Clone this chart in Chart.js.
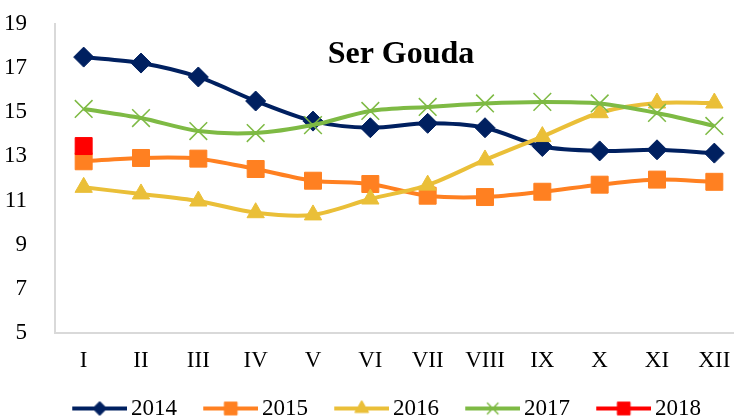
<!DOCTYPE html>
<html>
<head>
<meta charset="utf-8">
<script src="https://cdn.jsdelivr.net/npm/chart.js@4/dist/chart.umd.min.js"></script>
<style>
  html, body { margin: 0; padding: 0; overflow: hidden; background: #fff; }
  #wrap { width: 743px; height: 419px; position: relative; }
</style>
</head>
<body>
<div id="wrap"><canvas id="gouda"></canvas></div>
<script>
// ---------------- data ----------------
let months = ["I", "II", "III", "IV", "V", "VI", "VII", "VIII", "IX", "X", "XI", "XII"];
let years = ["2014", "2015", "2016", "2017", "2018"];

let data2014 = [17.5, 17.23, 16.6, 15.51, 14.6, 14.3, 14.5, 14.3, 13.45, 13.25, 13.3, 13.15];
let data2015 = [12.78, 12.93, 12.9, 12.43, 11.9, 11.75, 11.22, 11.16, 11.4, 11.72, 11.95, 11.85];
let data2016 = [11.6, 11.3, 10.98, 10.45, 10.35, 11.07, 11.7, 12.84, 13.9, 14.98, 15.42, 15.42];
let data2017 = [15.15, 14.74, 14.15, 14.06, 14.42, 15.06, 15.24, 15.4, 15.47, 15.4, 14.97, 14.38];
let data2018 = [13.47, null, null, null, null, null, null, null, null, null, null, null];

let yTicks = [5, 7, 9, 11, 13, 15, 17, 19];
let chartTitle = "Ser Gouda";

// ---------------- styles ----------------
let navy = "#002060";
let orange = "#FF8021";
let yellow = "#EABF38";
let green = "#7EBA44";
let red = "#FF0000";
let serif = "'Liberation Serif', 'Times New Roman', serif";

// legend icon: line with the marker in the middle
let makeIcon = (color, style, radius, borderWidth) => {
  let c = document.createElement("canvas");
  c.width = 87;
  c.height = 26;
  let g = c.getContext("2d");
  g.strokeStyle = color;
  g.lineWidth = 4;
  g.beginPath();
  g.moveTo(32, 13);
  g.lineTo(87, 13);
  g.stroke();
  g.fillStyle = color;
  g.strokeStyle = color;
  g.lineWidth = borderWidth;
  Chart.helpers.drawPoint(g, { pointStyle: style, radius: radius, borderWidth: borderWidth, rotation: 0 }, 59.5, 13);
  return c;
};

let legendIcons = [
  makeIcon(navy, "rectRot", 7, 1),
  makeIcon(orange, "rect", 9, 1),
  makeIcon(yellow, "triangle", 8, 1),
  makeIcon(green, "crossRot", 8, 1.5),
  makeIcon(red, "rect", 9, 1),
];

let titlePlugin = {
  id: "inTitle",
  afterDraw(chart) {
    let { ctx, chartArea } = chart;
    ctx.save();
    ctx.font = "bold 32px " + serif;
    ctx.fillStyle = "#000";
    ctx.textAlign = "center";
    ctx.textBaseline = "middle";
    ctx.fillText(chartTitle, (chartArea.left + chartArea.right) / 2 + 2, 55);
    ctx.restore();
  },
};

let series = (label, values, color, style, radius, order, extra) =>
  Object.assign(
    {
      label: label,
      data: values,
      borderColor: color,
      backgroundColor: color,
      borderWidth: 4,
      pointStyle: style,
      pointRadius: radius,
      pointHoverRadius: radius,
      pointBackgroundColor: color,
      pointBorderColor: color,
      pointBorderWidth: 1,
      tension: 0.3,
      spanGaps: false,
      order: order,
    },
    extra || {}
  );

new Chart(document.getElementById("gouda"), {
  type: "line",
  data: {
    labels: months,
    datasets: [
      series(years[0], data2014, navy, "rectRot", 10, 5),
      series(years[1], data2015, orange, "rect", 12, 4),
      series(years[2], data2016, yellow, "triangle", 10, 3),
      series(years[3], data2017, green, "crossRot", 12.5, 2, { pointBorderWidth: 1.5 }),
      series(years[4], data2018, red, "rect", 12, 1),
    ],
  },
  options: {
    responsive: true,
    maintainAspectRatio: false,
    animation: false,
    layout: { autoPadding: false, padding: { top: 0, left: 6, right: 0, bottom: -11 } },
    scales: {
      x: {
        offset: true,
        grid: { display: false },
        border: { display: true, color: "#D9D9D9", width: 2 },
        ticks: { color: "#000", padding: 6, font: { family: serif, size: 23 }, maxRotation: 0, autoSkip: false },
        afterFit: (scale) => { scale.height = 62; },
      },
      y: {
        min: yTicks[0],
        max: yTicks[yTicks.length - 1],
        grid: { display: false },
        border: { display: true, color: "#D9D9D9", width: 2 },
        afterBuildTicks: (scale) => { scale.ticks = yTicks.map((v) => ({ value: v })); },
        ticks: { color: "#000", padding: 20, font: { family: serif, size: 23 } },
        afterFit: (scale) => {
          scale.width = 49;
          scale.paddingTop = 24;
          scale.paddingBottom = 0;
        },
      },
    },
    plugins: {
      tooltip: { enabled: false },
      legend: {
        position: "bottom",
        labels: {
          usePointStyle: true,
          pointStyleWidth: 71.5,
          padding: 2,
          color: "#000",
          font: { family: serif, size: 23 },
          sort: (a, b) => a.datasetIndex - b.datasetIndex,
          generateLabels: (chart) =>
            Chart.defaults.plugins.legend.labels.generateLabels(chart).map((item) => {
              item.pointStyle = legendIcons[item.datasetIndex];
              return item;
            }),
        },
      },
    },
  },
  plugins: [titlePlugin],
});
</script>
</body>
</html>
